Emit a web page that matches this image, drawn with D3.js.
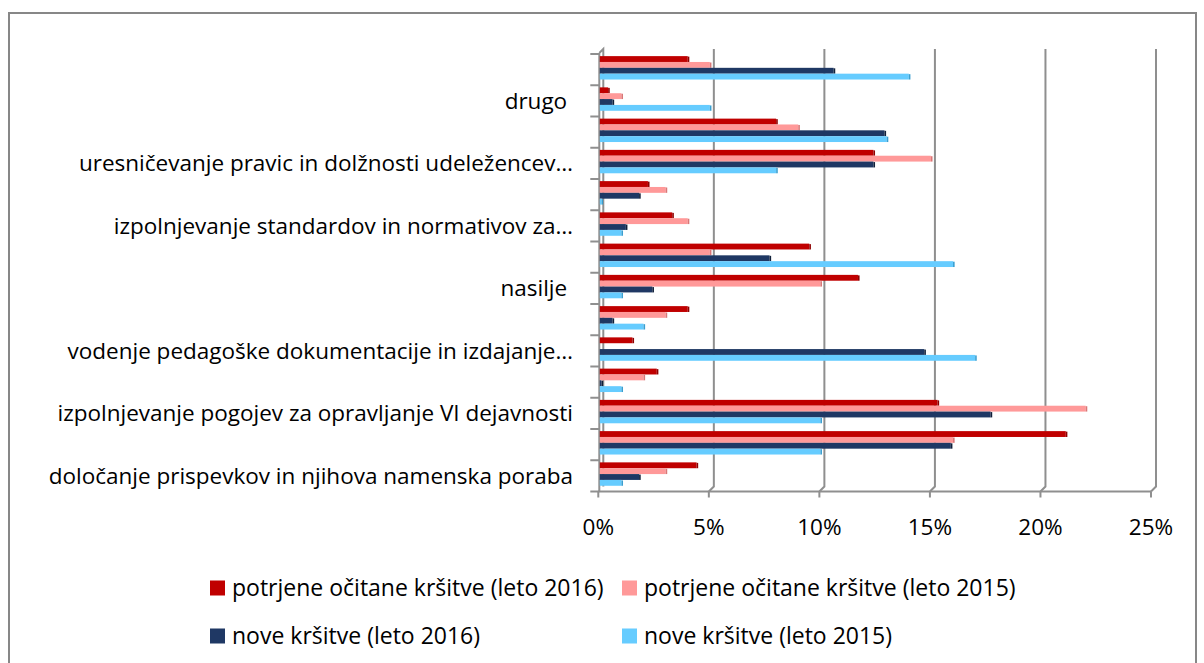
<!DOCTYPE html>
<html>
<head>
<meta charset="utf-8">
<script src="https://cdn.jsdelivr.net/npm/d3@7"></script>
<style>
  body { margin: 0; background: #fff; }
  text { font-family: "Open Sans", sans-serif; fill: #000; }
</style>
</head>
<body>
<div id="chart"></div>
<script>
// categories from top to bottom, only every other one carries a visible label
var categories = [
  "", "drugo ", "", "uresničevanje pravic in dolžnosti udeležencev…",
  "", "izpolnjevanje standardov in normativov za…", "", "nasilje ",
  "", "vodenje pedagoške dokumentacije in izdajanje…", "",
  "izpolnjevanje pogojev za opravljanje VI dejavnosti", "",
  "določanje prispevkov in njihova namenska poraba"
];

var seriesNames = [
  "potrjene očitane kršitve (leto 2016)",
  "potrjene očitane kršitve (leto 2015)",
  "nove kršitve (leto 2016)",
  "nove kršitve (leto 2015)"
];

// values in %, same order as categories
var confirmed2016 = [4.0, 0.4, 8.0, 12.4, 2.2, 3.3, 9.5, 11.7, 4.0, 1.5, 2.6, 15.3, 21.1, 4.4];
var confirmed2015 = [5.0, 1.0, 9.0, 15.0, 3.0, 4.0, 5.0, 10.0, 3.0, 0.0, 2.0, 22.0, 16.0, 3.0];
var new2016 = [10.6, 0.6, 12.9, 12.4, 1.8, 1.2, 7.7, 2.4, 0.6, 14.7, 0.1, 17.7, 15.9, 1.8];
var new2015 = [14.0, 5.0, 13.0, 8.0, 0.1, 1.0, 16.0, 1.0, 2.0, 17.0, 1.0, 10.0, 10.0, 1.0];

var xTicks = [0, 5, 10, 15, 20, 25];
var colors = ["#c00000", "#ff9999", "#1f3864", "#66ccff"];
var sideColors = ["#8e0000", "#d97777", "#10203a", "#3a9fd0"];

var allSeries = [confirmed2016, confirmed2015, new2016, new2015];

var svgWidth = 1204;
var svgHeight = 663;

var svg = d3.select("#chart")
  .append("svg")
  .attr("width", svgWidth)
  .attr("height", svgHeight);

// outer chart border
svg.append("rect")
  .attr("x", 9).attr("y", 13)
  .attr("width", 1187).attr("height", 670)
  .attr("fill", "none")
  .attr("stroke", "#878787")
  .attr("stroke-width", 2);

var plotTop = 54, plotBottom = 491.5;
var depth = 5;

// front scale (floor edge, tick labels)
var x = d3.scaleLinear().domain([0, 25]).range([598.3, 1151]);

var y0 = d3.scaleBand()
  .domain(d3.range(categories.length))
  .range([plotTop, plotBottom]);

var y1 = d3.scaleBand()
  .domain(d3.range(seriesNames.length))
  .range([0, y0.bandwidth()])
  .paddingOuter(0.67);

// back-wall gridlines with short slanted foot
var grid = svg.append("g");
xTicks.forEach(function(t) {
  if (t === 0) return;
  grid.append("path")
    .attr("d", "M" + (x(t) + depth) + "," + (plotTop - 5) +
      "L" + (x(t) + depth) + "," + (plotBottom - 5) +
      "L" + x(t) + "," + plotBottom)
    .attr("fill", "none")
    .attr("stroke", "#8f8f8f")
    .attr("stroke-width", 2);
});

// left wall / axis line
svg.append("path")
  .attr("d", "M" + (x(0) + 1) + "," + (plotTop - 1) + "L" + (x(0) + 1) + "," + plotBottom +
    "M" + (x(0) + 1) + "," + (plotTop - 1) + "L" + (x(0) + depth) + "," + (plotTop - 5) +
    "L" + (x(0) + depth) + "," + (plotBottom - 5))
  .attr("fill", "none")
  .attr("stroke", "#8f8f8f")
  .attr("stroke-width", 2);

// left tick marks at category boundaries
svg.append("g").selectAll("line")
  .data(d3.range(categories.length + 1))
  .enter()
  .append("line")
  .attr("x1", x(0) - 8).attr("x2", x(0) + 1)
  .attr("y1", function(i) { return i < categories.length ? y0(i) : plotBottom; })
  .attr("y2", function(i) { return i < categories.length ? y0(i) : plotBottom; })
  .attr("stroke", "#8f8f8f")
  .attr("stroke-width", 2);

// floor line and bottom ticks
svg.append("line")
  .attr("x1", x(0)).attr("x2", x(25))
  .attr("y1", plotBottom).attr("y2", plotBottom)
  .attr("stroke", "#8f8f8f").attr("stroke-width", 2);

svg.append("g").selectAll("line")
  .data(xTicks)
  .enter()
  .append("line")
  .attr("x1", function(d) { return x(d); })
  .attr("x2", function(d) { return x(d); })
  .attr("y1", plotBottom).attr("y2", plotBottom + 6)
  .attr("stroke", "#8f8f8f").attr("stroke-width", 2);

// bars
var barGroups = svg.append("g").selectAll("g")
  .data(categories.map(function(c, i) { return i; }))
  .enter()
  .append("g")
  .attr("transform", function(i) { return "translate(0," + (y0(i) - 1.8) + ")"; });

barGroups.selectAll("g")
  .data(function(i) {
    return allSeries.map(function(s, k) { return { k: k, v: s[i] }; });
  })
  .enter()
  .append("g")
  .each(function(d) {
    var g = d3.select(this);
    var x0 = x(0) + 1.5;
    var x1 = x(d.v) + 1;
    if (d.v <= 0) return;
    g.append("rect")
      .attr("x", x0)
      .attr("y", y1(d.k))
      .attr("width", Math.max(x1 - x0, 0.8))
      .attr("height", y1.bandwidth())
      .attr("fill", colors[d.k]);
    g.append("rect")
      .attr("x", x0 + Math.max(x1 - x0, 0.8))
      .attr("y", y1(d.k) + 0.5)
      .attr("width", 1.6)
      .attr("height", y1.bandwidth() - 0.5)
      .attr("fill", sideColors[d.k]);
  });

// category labels
svg.append("g").selectAll("text")
  .data(categories.map(function(c, i) { return i; }).filter(function(i) { return categories[i] !== ""; }))
  .enter()
  .append("text")
  .attr("x", 573)
  .attr("y", function(i) { return y0(i) + y0.bandwidth() / 2; })
  .attr("dy", "0.35em")
  .attr("text-anchor", "end")
  .style("font-size", "22.5px")
  .style("white-space", "pre")
  .text(function(i) { return categories[i]; });

// x tick labels
svg.append("g").selectAll("text")
  .data(xTicks)
  .enter()
  .append("text")
  .attr("x", function(d) { return x(d); })
  .attr("y", 527)
  .attr("dy", "0.35em")
  .attr("text-anchor", "middle")
  .style("font-size", "22.5px")
  .text(function(d) { return d + "%"; });

// legend
var legendPos = [[210, 588], [622, 588], [210, 636], [622, 636]];
var legend = svg.append("g").selectAll("g")
  .data(seriesNames)
  .enter()
  .append("g")
  .attr("transform", function(d, i) { return "translate(" + legendPos[i][0] + "," + legendPos[i][1] + ")"; });

legend.append("rect")
  .attr("x", 0).attr("y", -7.5)
  .attr("width", 15).attr("height", 15)
  .attr("fill", function(d, i) { return colors[i]; });

legend.append("text")
  .attr("x", 22)
  .attr("y", 0)
  .attr("dy", "0.35em")
  .style("font-size", "23px")
  .text(function(d) { return d; });
</script>
</body>
</html>
